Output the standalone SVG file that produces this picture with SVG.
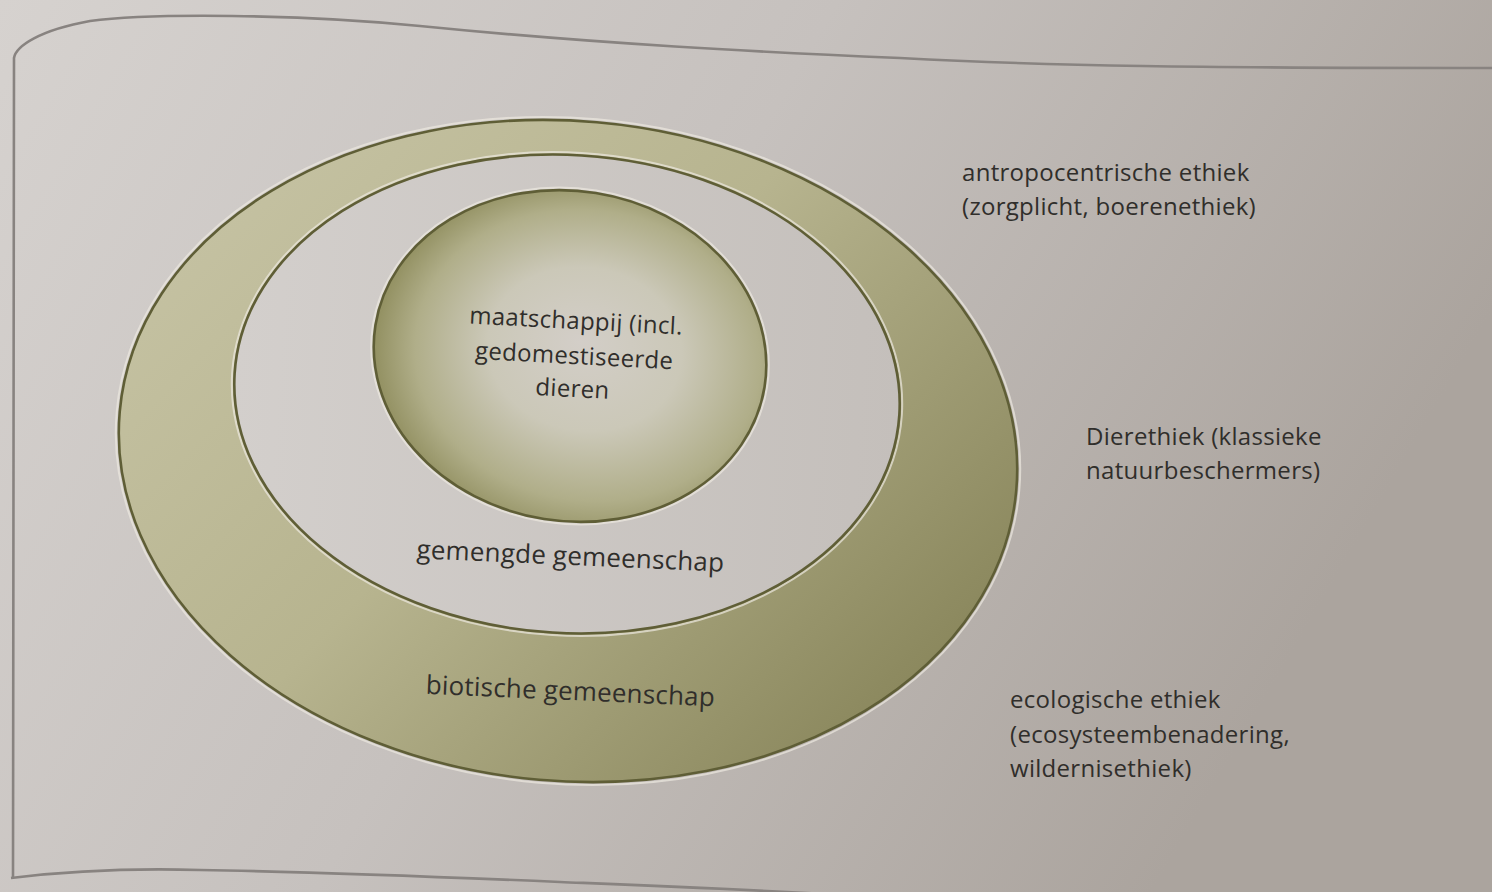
<svg xmlns="http://www.w3.org/2000/svg" width="1492" height="892" viewBox="0 0 1492 892">
<defs>
<linearGradient id="paper" x1="0" y1="0" x2="1" y2="0.35">
<stop offset="0" stop-color="#d6d2cf"/>
<stop offset="0.5" stop-color="#c6c1be"/>
<stop offset="1" stop-color="#aba49e"/>
</linearGradient>
<linearGradient id="band" x1="0" y1="0.2" x2="1" y2="0.8">
<stop offset="0" stop-color="#c6c3a4"/>
<stop offset="0.45" stop-color="#b7b48f"/>
<stop offset="1" stop-color="#858257"/>
</linearGradient>
<linearGradient id="mid" x1="0" y1="0" x2="1" y2="0">
<stop offset="0" stop-color="#d3cfcc"/>
<stop offset="1" stop-color="#c4bfbb"/>
</linearGradient>
<radialGradient id="core" cx="0.55" cy="0.5" r="0.55" fx="0.52" fy="0.45">
<stop offset="0" stop-color="#d3cec8"/>
<stop offset="0.45" stop-color="#cbc8b8"/>
<stop offset="0.8" stop-color="#b0ae89"/>
<stop offset="1" stop-color="#929061"/>
</radialGradient>
<style>
.rim{fill:none;stroke:#5f5e36;stroke-width:2.6}
.hi{fill:none;stroke:#ece8df;stroke-width:2;opacity:0.7}
.frame{fill:none;stroke:#888380;stroke-width:2.6}
text{font-family:"Open Sans","Liberation Sans",sans-serif;font-size:24px;letter-spacing:0.3px;fill:#302e2b}
.band{font-size:26px;letter-spacing:0.2px}
.c{text-anchor:middle}
</style>
</defs>
<rect width="1492" height="892" fill="url(#paper)"/>
<g id="frame">
<path class="frame" d="M13,878 L14,58 C16,46 40,30 90,21 C150,13 300,14 420,26 C600,44 760,52 900,58 C1050,66 1200,68 1492,68"/>
<path class="frame" d="M11,878 C60,872 130,868 200,870 C320,872 420,876 560,882 C660,886 740,889 860,896"/>
</g>
<g id="connectors"/>
<g id="biotische-gemeenschap">
<ellipse cx="568" cy="451" rx="453" ry="333" transform="rotate(5 568 451)" class="hi"/>
<ellipse cx="568" cy="451" rx="450" ry="330" transform="rotate(5 568 451)" fill="url(#band)"/>
<ellipse cx="568" cy="451" rx="450" ry="330" transform="rotate(5 568 451)" class="rim"/>
<text x="570" y="700" class="c band" transform="rotate(2.5 570 700)">biotische gemeenschap</text>
</g>
<g id="gemengde-gemeenschap">
<ellipse cx="567" cy="394" rx="333" ry="239" transform="rotate(3.5 567 394)" fill="url(#mid)"/>
<ellipse cx="567" cy="394" rx="335.5" ry="241.5" transform="rotate(3.5 567 394)" class="hi"/>
<ellipse cx="567" cy="394" rx="333" ry="239" transform="rotate(3.5 567 394)" class="rim"/>
<text x="570" y="565" class="c band" transform="rotate(2.5 570 565)">gemengde gemeenschap</text>
</g>
<g id="maatschappij">
<ellipse cx="570" cy="356" rx="197" ry="165" transform="rotate(9 570 356)" fill="url(#core)"/>
<ellipse cx="570" cy="356" rx="199.5" ry="167.5" transform="rotate(9 570 356)" class="hi"/>
<ellipse cx="570" cy="356" rx="197" ry="165" transform="rotate(9 570 356)" class="rim"/>
<g transform="rotate(3 574 360)">
<text x="574" y="329" class="c">maatschappij (incl.</text>
<text x="574" y="364" class="c">gedomestiseerde</text>
<text x="574" y="397" class="c">dieren</text>
</g>
</g>
<g id="label-antropocentrisch">
<text x="962" y="181">antropocentrische ethiek</text>
<text x="962" y="215">(zorgplicht, boerenethiek)</text>
</g>
<g id="label-dierethiek">
<text x="1086" y="445">Dierethiek (klassieke</text>
<text x="1086" y="479">natuurbeschermers)</text>
</g>
<g id="label-ecologisch">
<text x="1010" y="708">ecologische ethiek</text>
<text x="1010" y="743">(ecosysteembenadering,</text>
<text x="1010" y="777">wildernisethiek)</text>
</g>
</svg>
